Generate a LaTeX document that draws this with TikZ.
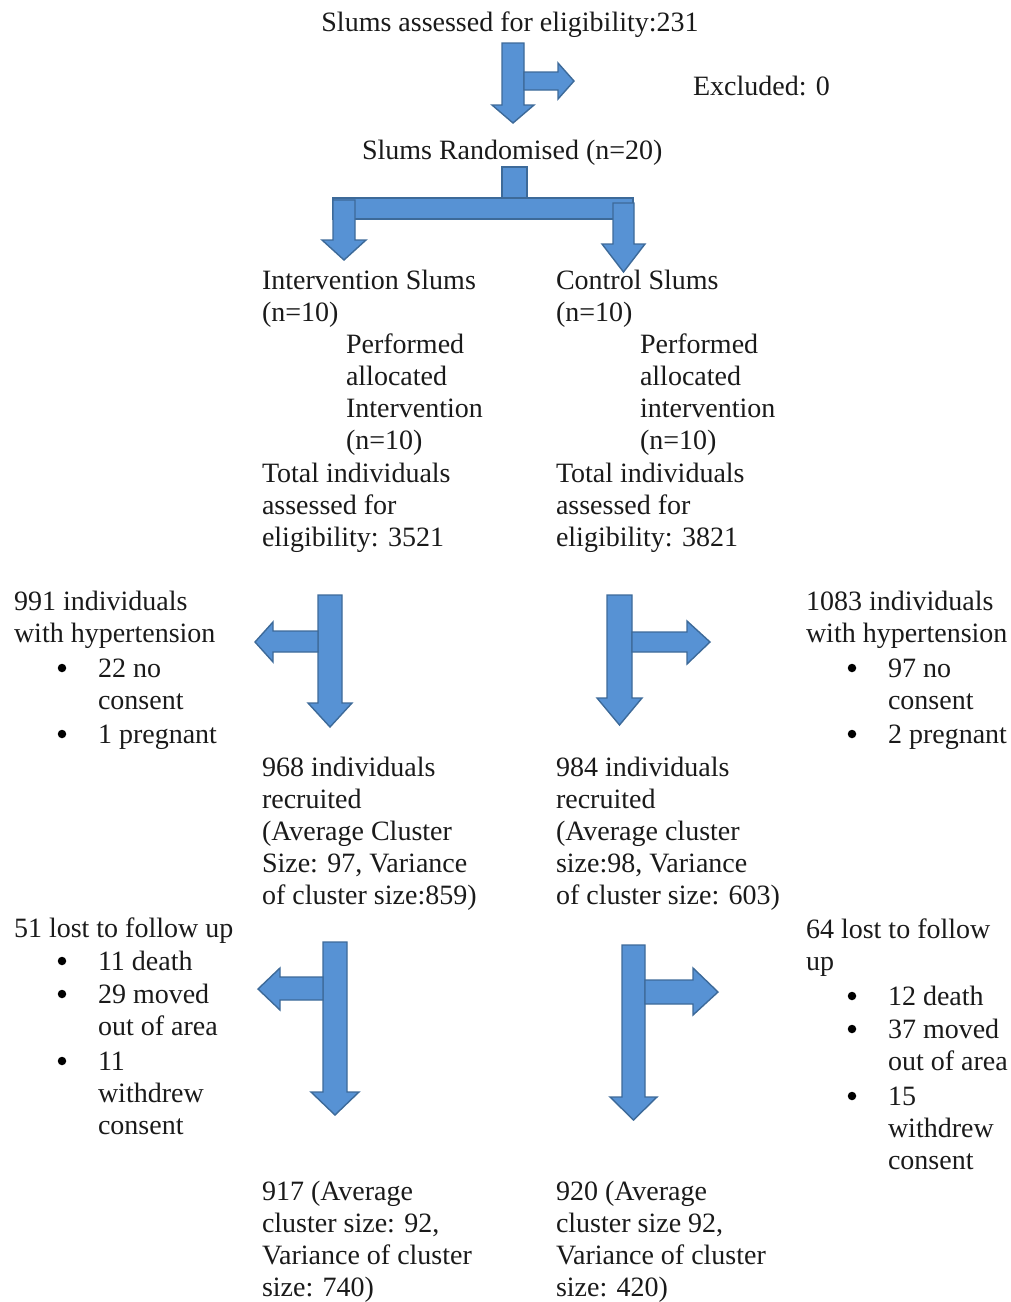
\documentclass[tikz,border=0pt]{standalone}
\usepackage{fontspec}
\setmainfont{Liberation Serif}
\newcommand\firstln{\rule{0pt}{20pt}}
\definecolor{arrfill}{HTML}{5792D4}
\definecolor{arrline}{HTML}{3D6A99}
\definecolor{txtcol}{HTML}{1A1A1A}
\begin{document}
\begin{tikzpicture}[x=1pt,y=-1pt,
  txt/.style={inner sep=0pt,outer sep=0pt,align=left,anchor=north west,text=txtcol,font=\fontsize{28}{32.2}\selectfont},
  line/.style={inner sep=0pt,outer sep=0pt,anchor=base west,text=txtcol,font=\fontsize{28}{32.2}\selectfont},
  ctr/.style={inner sep=0pt,outer sep=0pt,anchor=base,text=txtcol,font=\fontsize{28}{32.2}\selectfont},
  bul/.style={circle,fill=black,inner sep=0pt,minimum size=8.5pt},
  blockarrow/.style={fill=arrfill,draw=arrline,line width=1.4pt,line join=miter}]
\useasboundingbox (0,0) rectangle (1010,1302);

% ---- texts ----
\node[ctr] (top) at (510,31) {Slums assessed for eligibility:231};
\node[line] (excl) at (693,95) {Excluded: 0};
\node[line] (rand) at (362,159) {Slums Randomised (n=20)};

\node[txt] (ints) at (262,269) {\firstln Intervention Slums\\(n=10)};
\node[txt] (intp) at (346,333) {\firstln Performed\\allocated\\Intervention\\(n=10)};
\node[txt] (intt) at (262,462) {\firstln Total individuals\\assessed for\\eligibility: 3521};

\node[txt] (cons) at (556,269) {\firstln Control Slums\\(n=10)};
\node[txt] (conp) at (640,333) {\firstln Performed\\allocated\\intervention\\(n=10)};
\node[txt] (cont) at (556,462) {\firstln Total individuals\\assessed for\\eligibility: 3821};

\node[txt] (lhyp) at (14,590) {\firstln 991 individuals\\with hypertension};
\node[bul] (lb1) at (62,668) {};
\node[txt] (lh1) at (98,657) {\firstln 22 no\\consent};
\node[bul] (lb2) at (62,734) {};
\node[line] (lh2) at (98,743) {1 pregnant};

\node[txt] (rhyp) at (806,590) {\firstln 1083 individuals\\with hypertension};
\node[bul] (rb1) at (852,668) {};
\node[txt] (rh1) at (888,657) {\firstln 97 no\\consent};
\node[bul] (rb2) at (852,734) {};
\node[line] (rh2) at (888,743) {2 pregnant};

\node[txt] (lrec) at (262,756) {\firstln 968 individuals\\recruited\\(Average Cluster\\Size: 97, Variance\\of cluster size:859)};
\node[txt] (rrec) at (556,756) {\firstln 984 individuals\\recruited\\(Average cluster\\size:98, Variance\\of cluster size: 603)};

\node[line] (llost) at (14,937) {51 lost to follow up};
\node[bul] (lb3) at (62,961) {};
\node[line] (ll1) at (98,970) {11 death};
\node[bul] (lb4) at (62,994) {};
\node[txt] (ll2) at (98,983) {\firstln 29 moved\\out of area};
\node[bul] (lb5) at (62,1061) {};
\node[txt] (ll3) at (98,1050) {\firstln 11\\withdrew\\consent};

\node[txt] (rlost) at (806,918) {\firstln 64 lost to follow\\up};
\node[bul] (rb3) at (852,996) {};
\node[line] (rl1) at (888,1005) {12 death};
\node[bul] (rb4) at (852,1029) {};
\node[txt] (rl2) at (888,1018) {\firstln 37 moved\\out of area};
\node[bul] (rb5) at (852,1096) {};
\node[txt] (rl3) at (888,1085) {\firstln 15\\withdrew\\consent};

\node[txt] (lfin) at (262,1180) {\firstln 917 (Average\\cluster size: 92,\\Variance of cluster\\size: 740)};
\node[txt] (rfin) at (556,1180) {\firstln 920 (Average\\cluster size 92,\\Variance of cluster\\size: 420)};

% ---- block arrows ----
% top: down + right (excluded)
\draw[blockarrow] (502,43) -- (524,43) -- (524,105) -- (534,105) -- (513,123) -- (492,105) -- (502,105) -- cycle;
\draw[blockarrow] (524,72) -- (558,72) -- (558,63) -- (574,81) -- (558,99) -- (558,90) -- (524,90) -- cycle;

% randomisation split
\draw[blockarrow] (333,198) rectangle (633,219);
\draw[blockarrow] (502,167) rectangle (527,198);
\draw[blockarrow] (333,200) -- (355,200) -- (355,240) -- (366,240) -- (344,260) -- (322,240) -- (333,240) -- cycle;
\draw[blockarrow] (613,203) -- (634,203) -- (634,244) -- (645,244) -- (623.5,272) -- (602,244) -- (613,244) -- cycle;

% left middle
\draw[blockarrow] (318,595) -- (342,595) -- (342,703) -- (352,703) -- (330,727) -- (308,703) -- (318,703) -- cycle;
\draw[blockarrow] (318,631) -- (273,631) -- (273,622) -- (255,642) -- (273,662) -- (273,652) -- (318,652) -- cycle;

% right middle
\draw[blockarrow] (607,595) -- (632,595) -- (632,698) -- (642,698) -- (619.5,725) -- (597,698) -- (607,698) -- cycle;
\draw[blockarrow] (632,632) -- (687,632) -- (687,621) -- (710,642) -- (687,664) -- (687,652) -- (632,652) -- cycle;

% left lower
\draw[blockarrow] (323,942) -- (347,942) -- (347,1092) -- (359,1092) -- (335,1115) -- (311,1092) -- (323,1092) -- cycle;
\draw[blockarrow] (323,977) -- (280,977) -- (280,968) -- (258,989) -- (280,1010) -- (280,1000) -- (323,1000) -- cycle;

% right lower
\draw[blockarrow] (622,945) -- (645,945) -- (645,1097) -- (657,1097) -- (633.5,1120) -- (610,1097) -- (622,1097) -- cycle;
\draw[blockarrow] (645,980) -- (693,980) -- (693,968) -- (718,992) -- (693,1015) -- (693,1004) -- (645,1004) -- cycle;
\end{tikzpicture}
\end{document}
